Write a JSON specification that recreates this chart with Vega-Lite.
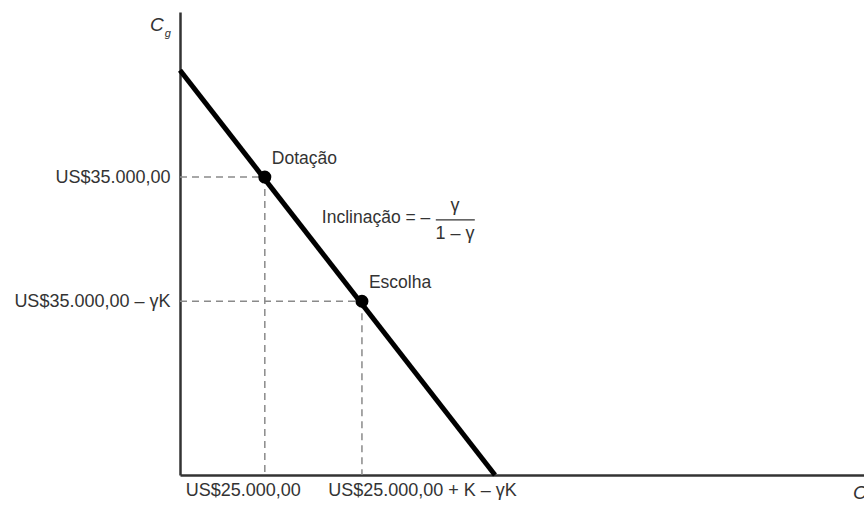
{
  "$schema": "https://vega.github.io/schema/vega-lite/v6.json",
  "width": 684,
  "height": 463,
  "autosize": "none",
  "padding": {"left": 180, "top": 12, "right": 0, "bottom": 31},
  "background": "white",
  "config": {"view": {"stroke": null}, "font": "Liberation Sans"},
  "datasets": {
    "budget": [{"x": 0, "y": 89.0}, {"x": 46.05, "y": 0}],
    "guides": [
      {"x": 0, "y": 65.5, "x2": 12.4, "y2": 65.5},
      {"x": 12.4, "y": 65.5, "x2": 12.4, "y2": 0},
      {"x": 0, "y": 38.2, "x2": 26.6, "y2": 38.2},
      {"x": 26.6, "y": 38.2, "x2": 26.6, "y2": 0}
    ],
    "points": [
      {"x": 12.4, "y": 65.5, "label": "Dotação"},
      {"x": 26.6, "y": 38.2, "label": "Escolha"}
    ]
  },
  "layer": [
    {
      "data": {"name": "guides"},
      "mark": {"type": "rule", "color": "#8a8a8a", "strokeWidth": 1.5, "strokeDash": [7, 5]},
      "encoding": {
        "x": {"field": "x", "type": "quantitative", "scale": {"domain": [0, 100], "nice": false, "zero": false},
          "axis": {"values": [12.4, 26.6], "labelExpr": "datum.value < 20 ? 'US$25.000,00' : 'US$25.000,00 + K – γK'", "labelOffset": {"condition": {"test": "datum.value < 20", "value": -22}, "value": 60}, "labelLimit": 400, "labelOverlap": false, "ticks": false, "grid": false, "title": null, "domainColor": "#333", "domainWidth": 2.5, "labelFontSize": 18, "labelColor": "#333", "labelPadding": 6, "labelFont": "Liberation Sans"}},
        "y": {"field": "y", "type": "quantitative", "scale": {"domain": [0, 101.8], "nice": false, "zero": false},
          "axis": {"values": [65.5, 38.2], "labelExpr": "datum.value > 50 ? 'US$35.000,00' : 'US$35.000,00 – γK'", "labelLimit": 300, "ticks": false, "grid": false, "title": null, "domainColor": "#333", "domainWidth": 2.5, "labelFontSize": 18, "labelColor": "#333", "labelPadding": 10, "labelFont": "Liberation Sans"}},
        "x2": {"field": "x2"},
        "y2": {"field": "y2"}
      }
    },
    {
      "data": {"name": "budget"},
      "mark": {"type": "line", "color": "black", "strokeWidth": 5},
      "encoding": {
        "x": {"field": "x", "type": "quantitative"},
        "y": {"field": "y", "type": "quantitative"}
      }
    },
    {
      "data": {"name": "points"},
      "mark": {"type": "circle", "color": "black", "opacity": 1, "size": 170},
      "encoding": {
        "x": {"field": "x", "type": "quantitative"},
        "y": {"field": "y", "type": "quantitative"}
      }
    },
    {
      "data": {"name": "points"},
      "mark": {"type": "text", "align": "left", "baseline": "bottom", "dx": 7, "dy": -9, "fontSize": 17.5, "color": "#333"},
      "encoding": {
        "x": {"field": "x", "type": "quantitative"},
        "y": {"field": "y", "type": "quantitative"},
        "text": {"field": "label"}
      }
    },
    {
      "data": {"values": [{"x": 36.6, "y": 56.5, "t": "Inclinação = –"}]},
      "mark": {"type": "text", "align": "right", "baseline": "middle", "color": "#333", "fontSize": 17.5},
      "encoding": {
        "x": {"field": "x", "type": "quantitative"},
        "y": {"field": "y", "type": "quantitative"},
        "text": {"field": "t"}
      }
    },
    {
      "data": {"values": [
        {"x": 40.2, "y": 59.2, "t": "γ"},
        {"x": 40.2, "y": 53.0, "t": "1 – γ"}
      ]},
      "mark": {"type": "text", "align": "center", "baseline": "middle", "color": "#333", "fontSize": 18},
      "encoding": {
        "x": {"field": "x", "type": "quantitative"},
        "y": {"field": "y", "type": "quantitative"},
        "text": {"field": "t"}
      }
    },
    {
      "data": {"values": [{"x": 37.4, "x2": 43.1, "y": 56.1}]},
      "mark": {"type": "rule", "color": "#333", "strokeWidth": 1.3},
      "encoding": {
        "x": {"field": "x", "type": "quantitative"},
        "x2": {"field": "x2"},
        "y": {"field": "y", "type": "quantitative"}
      }
    },
    {
      "data": {"values": [
        {"x": -3.4, "y": 98.9, "t": "C", "size": 19, "s": "italic"},
        {"x": -1.8, "y": 97.0, "t": "g", "size": 11, "s": "normal"},
        {"x": 99.4, "y": -4.0, "t": "C", "size": 19, "s": "italic"}
      ]},
      "mark": {"type": "text", "align": "center", "baseline": "middle", "fontStyle": "italic", "color": "#333"},
      "encoding": {
        "x": {"field": "x", "type": "quantitative"},
        "y": {"field": "y", "type": "quantitative"},
        "text": {"field": "t"},
        "size": {"field": "size", "type": "quantitative", "scale": null}
      }
    }
  ]
}
